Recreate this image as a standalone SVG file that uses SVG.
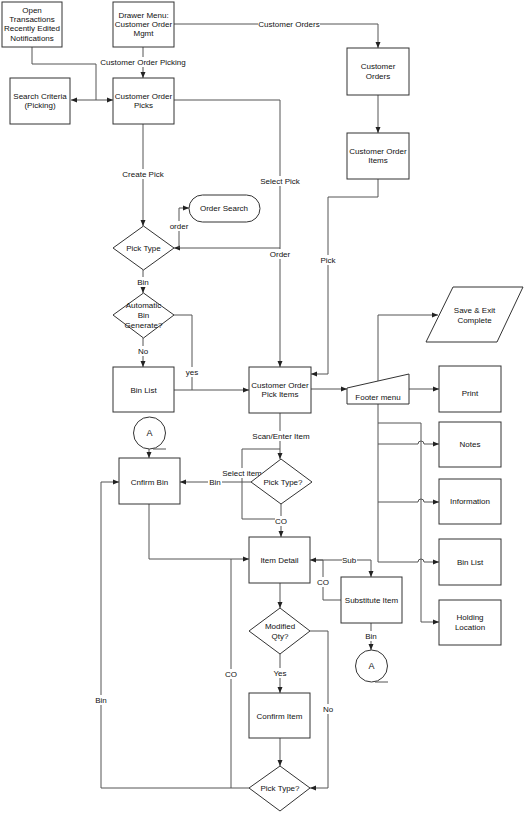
<svg xmlns="http://www.w3.org/2000/svg" width="527" height="814" viewBox="0 0 527 814">
<style>
.n{fill:#fff;stroke:#333;stroke-width:1}
.t{font-family:"Liberation Sans",Arial,sans-serif;font-size:8px;fill:#111;text-anchor:middle;dominant-baseline:central}
.c{fill:none;stroke:#555;stroke-width:1}
.lb{fill:#fff;stroke:none}
</style>
<defs>
<marker id="a" viewBox="0 0 6 6" refX="6" refY="3" markerWidth="6" markerHeight="6" orient="auto" markerUnits="userSpaceOnUse">
<path d="M0,0.5 L6,3 L0,5.5 Z" fill="#222"/>
</marker>
</defs>
<rect width="527" height="814" fill="#fff"/>

<g id="connectors">
<path class="c" d="M32,47 V64 H96 V100 H113" marker-end="url(#a)"/>
<path class="c" d="M96,100 H71" marker-end="url(#a)"/>
<path class="c" d="M143,47 V78" marker-end="url(#a)"/>
<path class="c" d="M174,24 H378 V48" marker-end="url(#a)"/>
<path class="c" d="M378,95 V133" marker-end="url(#a)"/>
<path class="c" d="M378,179 V197 H328 V374 H311" marker-end="url(#a)"/>
<path class="c" d="M174,100 H280 V248 H174" marker-end="url(#a)"/>
<path class="c" d="M280,248 V367" marker-end="url(#a)"/>
<path class="c" d="M143,124 V226" marker-end="url(#a)"/>
<path class="c" d="M179,248 V208 H189" marker-end="url(#a)"/>
<path class="c" d="M143,270 V293" marker-end="url(#a)"/>
<path class="c" d="M143,338 V367" marker-end="url(#a)"/>
<path class="c" d="M174,315 H192 V390"/>
<path class="c" d="M174,390 H249" marker-end="url(#a)"/>
<path class="c" d="M311,389 H347" marker-end="url(#a)"/>
<path class="c" d="M409,389 H439" marker-end="url(#a)"/>
<path class="c" d="M378,381 V315 H438" marker-end="url(#a)"/>
<path class="c" d="M378,404 V562 H418 a3,3 0 0 1 6,0 H439" marker-end="url(#a)"/>
<path class="c" d="M378,444 H418 a3,3 0 0 1 6,0 H439" marker-end="url(#a)"/>
<path class="c" d="M378,502 H418 a3,3 0 0 1 6,0 H439" marker-end="url(#a)"/>
<path class="c" d="M378,423 H421 V622 H439" marker-end="url(#a)"/>
<path class="c" d="M280,413 V459" marker-end="url(#a)"/>
<path class="c" d="M281,519 H242 V449 H280"/>
<path class="c" d="M251,482 H180" marker-end="url(#a)"/>
<path class="c" d="M281,504 V537" marker-end="url(#a)"/>
<path class="c" d="M149,449 V458" marker-end="url(#a)"/>
<path class="c" d="M149,504 V559 H249" marker-end="url(#a)"/>
<path class="c" d="M312,560 H371 V577" marker-end="url(#a)"/>
<path class="c" d="M341,600 H323 V560 H310" marker-end="url(#a)"/>
<path class="c" d="M371,623 V650" marker-end="url(#a)"/>
<path class="c" d="M280,583 V608" marker-end="url(#a)"/>
<path class="c" d="M280,654 V693" marker-end="url(#a)"/>
<path class="c" d="M310,631 H328 V788 H310" marker-end="url(#a)"/>
<path class="c" d="M280,738 V766" marker-end="url(#a)"/>
<path class="c" d="M249,788 H231 V559"/>
<path class="c" d="M231,788 H101 V482 H119" marker-end="url(#a)"/>

<g id="labels">
<rect class="lb" x="100" y="57" width="86" height="10"/><text class="t" x="143" y="62">Customer Order Picking</text>
<rect class="lb" x="258" y="19" width="62" height="10"/><text class="t" x="289" y="24">Customer Orders</text>
<rect class="lb" x="122" y="169" width="42" height="10"/><text class="t" x="143" y="174">Create Pick</text>
<rect class="lb" x="260" y="176" width="40" height="10"/><text class="t" x="280" y="181">Select Pick</text>
<rect class="lb" x="169" y="221" width="20" height="10"/><text class="t" x="179" y="226">order</text>
<rect class="lb" x="269" y="249" width="22" height="10"/><text class="t" x="280" y="254">Order</text>
<rect class="lb" x="320" y="255" width="16" height="10"/><text class="t" x="328" y="260">Pick</text>
<rect class="lb" x="136" y="277" width="14" height="10"/><text class="t" x="143" y="282">Bin</text>
<rect class="lb" x="137" y="346" width="12" height="10"/><text class="t" x="143" y="351">No</text>
<rect class="lb" x="185" y="367" width="14" height="10"/><text class="t" x="192" y="372">yes</text>
<rect class="lb" x="252" y="431" width="58" height="10"/><text class="t" x="281" y="436">Scan/Enter Item</text>
<rect class="lb" x="222" y="468" width="40" height="10"/><text class="t" x="242" y="473">Select item</text>
<rect class="lb" x="208" y="477" width="14" height="10"/><text class="t" x="215" y="482">Bin</text>
<rect class="lb" x="275" y="516" width="12" height="10"/><text class="t" x="281" y="521">CO</text>
<rect class="lb" x="342" y="555" width="15" height="10"/><text class="t" x="349" y="560">Sub</text>
<rect class="lb" x="317" y="577" width="12" height="10"/><text class="t" x="323" y="582">CO</text>
<rect class="lb" x="364" y="631" width="14" height="10"/><text class="t" x="371" y="636">Bin</text>
<rect class="lb" x="273" y="668" width="15" height="10"/><text class="t" x="280" y="673">Yes</text>
<rect class="lb" x="322" y="704" width="12" height="10"/><text class="t" x="328" y="709">No</text>
<rect class="lb" x="225" y="669" width="12" height="10"/><text class="t" x="231" y="674">CO</text>
<rect class="lb" x="94" y="695" width="14" height="10"/><text class="t" x="101" y="700">Bin</text>
</g>
</g>

<g id="open-transactions"><rect class="n" x="2" y="2" width="60" height="45"/>
<text class="t" x="32" y="10">Open</text><text class="t" x="32" y="19">Transactions</text><text class="t" x="32" y="28.5">Recently Edited</text><text class="t" x="32" y="38">Notifications</text></g>
<g id="drawer-menu"><rect class="n" x="113" y="2" width="61" height="45"/>
<text class="t" x="143.5" y="15">Drawer Menu:</text><text class="t" x="143.5" y="24">Customer Order</text><text class="t" x="143.5" y="33.5">Mgmt</text></g>
<g id="search-criteria"><rect class="n" x="10" y="78" width="60" height="46"/>
<text class="t" x="40" y="96">Search Criteria</text><text class="t" x="40" y="105">(Picking)</text></g>
<g id="customer-order-picks"><rect class="n" x="113" y="78" width="61" height="46"/>
<text class="t" x="143.5" y="96">Customer Order</text><text class="t" x="143.5" y="105">Picks</text></g>
<g id="customer-orders"><rect class="n" x="347" y="48" width="62" height="47"/>
<text class="t" x="378" y="66">Customer</text><text class="t" x="378" y="76">Orders</text></g>
<g id="customer-order-items"><rect class="n" x="347" y="133" width="62" height="46"/>
<text class="t" x="378" y="151">Customer Order</text><text class="t" x="378" y="160">Items</text></g>
<g id="order-search"><rect class="n" x="189" y="195" width="71" height="27" rx="13.5"/>
<text class="t" x="224" y="208.5">Order Search</text></g>
<g id="pick-type"><polygon class="n" points="143.5,226 174,248 143.5,270 113,248"/>
<text class="t" x="143.5" y="248">Pick Type</text></g>
<g id="auto-bin"><polygon class="n" points="143.5,293 174,315 143.5,338 113,315"/>
<text class="t" x="143.5" y="305">Automatic</text><text class="t" x="143.5" y="315">Bin</text><text class="t" x="143.5" y="325">Generate?</text></g>
<g id="bin-list-left"><rect class="n" x="113" y="367" width="61" height="45"/>
<text class="t" x="143.5" y="390">Bin List</text></g>
<g id="pick-items"><rect class="n" x="249" y="367" width="62" height="46"/>
<text class="t" x="280" y="385">Customer Order</text><text class="t" x="280" y="394">Pick Items</text></g>
<g id="footer-menu"><polygon class="n" points="347,388 409,374 409,404 347,404"/>
<text class="t" x="378" y="397">Footer menu</text></g>
<g id="save-exit"><polygon class="n" points="453,287 523,287 497,342 426,342"/>
<text class="t" x="474.5" y="310">Save &amp; Exit</text><text class="t" x="474.5" y="320">Complete</text></g>
<g id="print"><rect class="n" x="439" y="366" width="62" height="46"/>
<text class="t" x="470" y="393">Print</text></g>
<g id="notes"><rect class="n" x="439" y="422" width="62" height="45"/>
<text class="t" x="470" y="444">Notes</text></g>
<g id="information"><rect class="n" x="439" y="479" width="62" height="45"/>
<text class="t" x="470" y="501">Information</text></g>
<g id="bin-list-right"><rect class="n" x="439" y="539" width="62" height="46"/>
<text class="t" x="470" y="562">Bin List</text></g>
<g id="holding-location"><rect class="n" x="439" y="600" width="62" height="45"/>
<text class="t" x="470" y="617">Holding</text><text class="t" x="470" y="627">Location</text></g>
<g id="a-top"><circle class="n" cx="149.5" cy="433" r="16"/><path class="c" d="M153,449 H166"/>
<text class="t" x="149.5" y="433" style="font-size:9px">A</text></g>
<g id="confirm-bin"><rect class="n" x="119" y="458" width="61" height="46"/>
<text class="t" x="149.5" y="482">Cnfirm Bin</text></g>
<g id="pick-type-2"><polygon class="n" points="281,459 312,482 281,504 251,482"/>
<text class="t" x="283" y="482">Pick Type?</text></g>
<g id="item-detail"><rect class="n" x="249" y="537" width="61" height="46"/>
<text class="t" x="279.5" y="560">Item Detail</text></g>
<g id="substitute-item"><rect class="n" x="341" y="577" width="61" height="46"/>
<text class="t" x="371.5" y="600">Substitute Item</text></g>
<g id="a-bottom"><circle class="n" cx="371.5" cy="666" r="16"/><path class="c" d="M375,682 H388"/>
<text class="t" x="371.5" y="666" style="font-size:9px">A</text></g>
<g id="modified-qty"><polygon class="n" points="280,608 310,631 280,654 249,631"/>
<text class="t" x="280" y="626">Modified</text><text class="t" x="280" y="636">Qty?</text></g>
<g id="confirm-item"><rect class="n" x="249" y="693" width="61" height="45"/>
<text class="t" x="279.5" y="716">Confirm Item</text></g>
<g id="pick-type-3"><polygon class="n" points="280,766 310,788 280,811 249,788"/>
<text class="t" x="280" y="788">Pick Type?</text></g>
</svg>
